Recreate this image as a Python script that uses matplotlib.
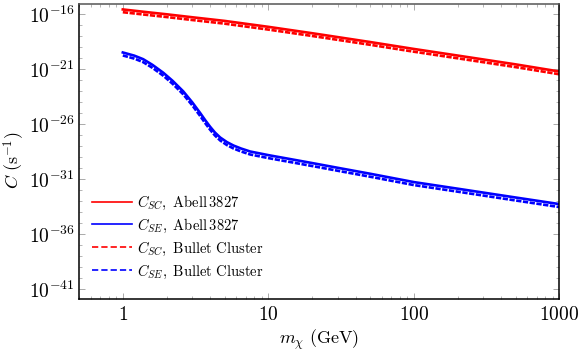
import numpy as np
import matplotlib
matplotlib.use("Agg")
import matplotlib.pyplot as plt
from matplotlib.lines import Line2D
from matplotlib.ticker import FixedLocator, FuncFormatter, NullFormatter

plt.rcParams['mathtext.fontset'] = 'cm'
plt.rcParams['font.family'] = 'serif'
plt.rcParams['font.serif'] = ['DejaVu Serif']
plt.rcParams['lines.scale_dashes'] = False

# dark matter mass (GeV) and log10 of the capture rate C (s^-1)
m_red = [1, 1.5, 2, 3, 5, 10, 20, 50, 100, 200, 500, 1000]
sc_abell = [-15.56, -15.82, -16.0, -16.27, -16.6, -17.14, -17.72, -18.52, -19.15, -19.75, -20.55, -21.2]
sc_bullet = [-15.81, -16.07, -16.25, -16.52, -16.85, -17.39, -17.97, -18.77, -19.40, -20.00, -20.80, -21.45]

m_blue = [1, 1.2, 1.38, 1.6, 1.9, 2.2, 2.6, 3.0, 3.4, 3.7, 3.98, 4.3, 4.67, 5.2, 5.77, 6.5, 7.5,
          10, 15, 20, 31.4, 50, 100, 200, 500, 1000]
se_abell = [-19.47, -19.76, -20.08, -20.6, -21.32, -22.05, -23.0, -24.0, -24.97, -25.66, -26.22,
            -26.75, -27.2, -27.62, -27.93, -28.2, -28.47, -28.8, -29.22, -29.52, -30.0, -30.49,
            -31.25, -31.85, -32.65, -33.25]
se_bullet = [-19.74, -20.03, -20.35, -20.87, -21.59, -22.32, -23.27, -24.27, -25.24, -25.93, -26.49,
             -27.02, -27.47, -27.89, -28.2, -28.47, -28.74, -29.07, -29.49, -29.79, -30.27, -30.76,
             -31.52, -32.12, -32.92, -33.52]

labels = [r'$C_{SC},\ \mathrm{Abell\,3827}$', r'$C_{SE},\ \mathrm{Abell\,3827}$',
          r'$C_{SC},\ \mathrm{Bullet\ Cluster}$', r'$C_{SE},\ \mathrm{Bullet\ Cluster}$']

red = '#ff0000'
blue = '#0000ff'

fig = plt.figure(figsize=(5.81, 3.59), dpi=100)
ax = fig.add_axes([0.136, 0.167, 0.8267, 0.822])

dash = (3.8, 1.1)
ax.plot(m_red, 10 ** np.array(sc_abell), color=red, lw=1.9)
ax.plot(m_blue, 10 ** np.array(se_abell), color=blue, lw=1.9)
ax.plot(m_red, 10 ** np.array(sc_bullet), color=red, lw=1.9, dashes=dash)
ax.plot(m_blue, 10 ** np.array(se_bullet), color=blue, lw=1.9, dashes=dash)

ax.set_xscale('log')
ax.set_yscale('log')
ax.set_xlim(0.5, 1000)
ax.set_ylim(10 ** -41.88, 10 ** -15.06)

ax.xaxis.set_major_locator(FixedLocator([1, 10, 100, 1000]))
ax.xaxis.set_major_formatter(FuncFormatter(lambda v, p: r'$%d$' % round(v)))
xminor = [k * 10 ** e for e in range(-1, 3) for k in range(2, 10) if 0.5 <= k * 10 ** e <= 1000]
ax.xaxis.set_minor_locator(FixedLocator(xminor))
ax.xaxis.set_minor_formatter(NullFormatter())

ymajor = [10.0 ** e for e in range(-41, -15, 5)]
ax.yaxis.set_major_locator(FixedLocator(ymajor))
ax.yaxis.set_major_formatter(FuncFormatter(lambda v, p: r'$10^{%d}$' % round(np.log10(v))))
ax.yaxis.set_minor_locator(FixedLocator([10.0 ** e for e in range(-41, -15)]))
ax.yaxis.set_minor_formatter(NullFormatter())

ax.tick_params(which='both', direction='in', top=True, right=True, color='#aaaaaa')
ax.tick_params(which='major', length=4.5, width=0.7, labelsize=14, pad=5)
ax.tick_params(which='minor', length=2.5, width=0.6)
ax.tick_params(axis='y', which='major', pad=3)

for s in ['left', 'bottom', 'right']:
    ax.spines[s].set_color('black')
    ax.spines[s].set_linewidth(1.1)
ax.spines['top'].set_color('#555555')
ax.spines['top'].set_linewidth(1.1)

ax.set_xlabel(r'$m_\chi\ (\mathrm{GeV})$', fontsize=13, labelpad=3)
ax.set_ylabel(r'$C\ (\mathrm{s}^{-1})$', fontsize=13)
ax.yaxis.set_label_coords(-0.108, 0.47)

handles = [Line2D([], [], color=red, lw=1.2), Line2D([], [], color=blue, lw=1.2),
           Line2D([], [], color=red, lw=1.2, dashes=(4.5, 2.2)),
           Line2D([], [], color=blue, lw=1.2, dashes=(4.5, 2.2))]
ax.legend(handles, labels, loc='lower left', bbox_to_anchor=(0.0, 0.018), frameon=False,
          fontsize=10.5, handlelength=2.7, handletextpad=0.4, labelspacing=0.33, borderaxespad=0.5)

fig.savefig('out.png', dpi=100)
